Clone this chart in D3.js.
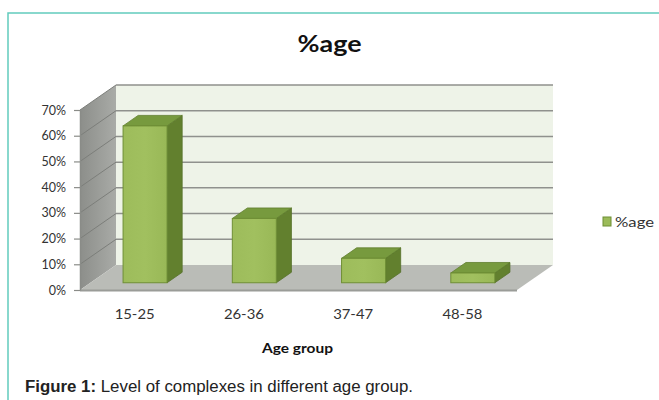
<!DOCTYPE html>
<html>
<head>
<meta charset="utf-8">
<script src="https://cdn.jsdelivr.net/npm/d3@7"></script>
<style>
  html, body { margin: 0; padding: 0; background: #fff; }
  svg { display: block; }
</style>
</head>
<body>
<svg id="chart" width="659" height="400"></svg>
<script>
// ---- data ----
const categories = ["15-25", "26-36", "37-47", "48-58"];
const values = [0.61, 0.25, 0.095, 0.038];
const yTicks = [0, 0.1, 0.2, 0.3, 0.4, 0.5, 0.6, 0.7];
const seriesName = "%age";
const chartTitle = "%age";
const xAxisTitle = "Age group";
const captionBold = "Figure 1:";
const captionText = " Level of complexes in different age group.";

// ---- layout ----
const svg = d3.select("#chart");
const x0 = 80, x1 = 517;         // front floor edge
const yBase = 290, yTop = 110;   // front 0% and 70%
const DX = 36, DY = -25;         // depth offset (front -> back wall)
const fBar = 0.29, dBar = 0.42;  // bar front depth fraction, bar depth fraction
const barW = 44;
const FONT = "Lato, 'Open Sans', sans-serif";

const x = d3.scaleBand().domain(categories).range([x0, x1]);
const y = d3.scaleLinear().domain([0, 0.7]).range([yBase, yTop]);

const defs = svg.append("defs");
const gSide = defs.append("linearGradient").attr("id", "sideGrad").attr("x1", 0).attr("x2", 1).attr("y1", 0).attr("y2", 0);
gSide.append("stop").attr("offset", "0%").attr("stop-color", "#8c8e8a");
gSide.append("stop").attr("offset", "100%").attr("stop-color", "#a9aba7");
const gFront = defs.append("linearGradient").attr("id", "frontGrad").attr("x1", 0).attr("x2", 1).attr("y1", 0).attr("y2", 0);
gFront.append("stop").attr("offset", "0%").attr("stop-color", "#9dbc5b");
gFront.append("stop").attr("offset", "50%").attr("stop-color", "#a1c05f");
gFront.append("stop").attr("offset", "100%").attr("stop-color", "#99b857");

// border
svg.append("path")
  .attr("d", `M8,400 L8,13 L659,13`)
  .attr("fill", "none").attr("stroke", "#62cbbd").attr("stroke-width", 1.5);

// title
svg.append("text").attr("x", 329.5).attr("y", 52).attr("text-anchor", "middle")
  .attr("font-family", FONT).attr("font-weight", "bold")
  .attr("font-size", 23).attr("fill", "#111")
  .attr("textLength", 64).attr("lengthAdjust", "spacingAndGlyphs").text(chartTitle);

const pt = (px, py) => px + "," + py;

// back wall
svg.append("polygon")
  .attr("points", [pt(x0 + DX, yBase + DY), pt(x0 + DX, yTop + DY), pt(x1 + DX, yTop + DY), pt(x1 + DX, yBase + DY)].join(" "))
  .attr("fill", "#eef3e8");
// side wall
svg.append("polygon")
  .attr("points", [pt(x0, yBase), pt(x0, yTop), pt(x0 + DX, yTop + DY), pt(x0 + DX, yBase + DY)].join(" "))
  .attr("fill", "url(#sideGrad)");
// floor
svg.append("polygon")
  .attr("points", [pt(x0, yBase), pt(x0 + DX, yBase + DY), pt(x1 + DX, yBase + DY), pt(x1, yBase)].join(" "))
  .attr("fill", "#babcb7");
svg.append("line").attr("x1", x0).attr("x2", x1).attr("y1", yBase + 0.5).attr("y2", yBase + 0.5)
  .attr("stroke", "#9a9c98").attr("stroke-width", 2);

// gridlines on back wall and side wall
const gridVals = yTicks.filter(v => v > 0);
svg.selectAll(".grid").data(gridVals).enter().append("line")
  .attr("x1", x0 + DX).attr("x2", x1 + DX)
  .attr("y1", d => y(d) + DY).attr("y2", d => y(d) + DY)
  .attr("stroke", "#8f918d").attr("stroke-width", 1.5);
svg.selectAll(".sgrid").data(gridVals).enter().append("line")
  .attr("x1", x0).attr("x2", x0 + DX)
  .attr("y1", d => y(d)).attr("y2", d => y(d) + DY)
  .attr("stroke", "#7c7e7a").attr("stroke-width", 1);

// y axis
const yAxis = d3.axisLeft(y).tickValues(yTicks).tickFormat(d3.format(".0%"))
  .tickSize(6).tickSizeOuter(0).tickPadding(8);
const gy = svg.append("g").attr("transform", `translate(${x0},0)`).call(yAxis);
gy.select(".domain").attr("stroke", "#8a8c88").attr("stroke-width", 1.5);
gy.selectAll(".tick line").attr("stroke", "#8a8c88").attr("stroke-width", 1.2);
gy.selectAll(".tick text").attr("font-family", FONT)
  .attr("font-size", 12.5).attr("fill", "#333");

// x axis labels
const xAxis = d3.axisBottom(x).tickSize(0).tickPadding(19);
const gx = svg.append("g").attr("transform", `translate(0,${yBase})`).call(xAxis);
gx.select(".domain").remove();
gx.selectAll(".tick text").attr("font-family", FONT)
  .attr("font-size", 13.5).attr("fill", "#333")
  .attr("textLength", 40).attr("lengthAdjust", "spacingAndGlyphs");

// bars
const bars = categories.map((c, i) => {
  const cx = x(c) + x.bandwidth() / 2 + fBar * DX;
  const bx = cx - barW / 2;
  const by0 = yBase + fBar * DY;
  const byT = y(values[i]) + fBar * DY;
  return { bx, by0, byT, ox: dBar * DX, oy: dBar * DY };
});
const gb = svg.append("g");
bars.forEach(b => {
  gb.append("polygon")
    .attr("points", [pt(b.bx + barW, b.by0), pt(b.bx + barW, b.byT), pt(b.bx + barW + b.ox, b.byT + b.oy), pt(b.bx + barW + b.ox, b.by0 + b.oy)].join(" "))
    .attr("fill", "#62802e").attr("stroke", "#55702a").attr("stroke-width", 0.8);
  gb.append("polygon")
    .attr("points", [pt(b.bx, b.byT), pt(b.bx + b.ox, b.byT + b.oy), pt(b.bx + barW + b.ox, b.byT + b.oy), pt(b.bx + barW, b.byT)].join(" "))
    .attr("fill", "#779a3e").attr("stroke", "#5f7d2d").attr("stroke-width", 0.8);
  gb.append("rect")
    .attr("x", b.bx).attr("y", b.byT).attr("width", barW).attr("height", b.by0 - b.byT)
    .attr("fill", "url(#frontGrad)").attr("stroke", "#6f8f35").attr("stroke-width", 1);
});

// x axis title
svg.append("text").attr("x", 297.5).attr("y", 353).attr("text-anchor", "middle")
  .attr("font-family", FONT).attr("font-weight", "bold")
  .attr("font-size", 13.5).attr("fill", "#111")
  .attr("textLength", 71).attr("lengthAdjust", "spacingAndGlyphs").text(xAxisTitle);

// legend
svg.append("rect").attr("x", 603).attr("y", 217).attr("width", 8).attr("height", 9)
  .attr("fill", "#9bbb59").attr("stroke", "#6f8f35").attr("stroke-width", 1);
svg.append("text").attr("x", 615).attr("y", 226.5)
  .attr("font-family", FONT).attr("font-size", 13)
  .attr("fill", "#333").attr("textLength", 39).attr("lengthAdjust", "spacingAndGlyphs").text(seriesName);

// caption
const cap = svg.append("text").attr("x", 25).attr("y", 392)
  .attr("font-family", "'Liberation Sans', Arial, sans-serif").attr("font-size", 16).attr("fill", "#222")
  .attr("textLength", 388).attr("lengthAdjust", "spacingAndGlyphs");
cap.append("tspan").attr("font-weight", "bold").text(captionBold);
cap.append("tspan").text(captionText);
</script>
</body>
</html>
